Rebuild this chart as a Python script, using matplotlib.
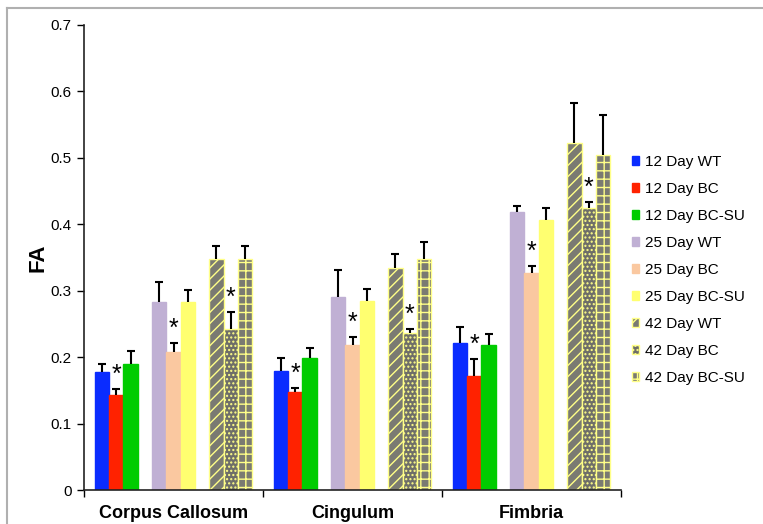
import matplotlib
matplotlib.use('Agg')
import matplotlib.pyplot as plt
import numpy as np

plt.rcParams['font.family'] = ['Liberation Sans', 'DejaVu Sans']

# Data
regions = ['Corpus Callosum', 'Cingulum', 'Fimbria']
series = ['12 Day WT', '12 Day BC', '12 Day BC-SU',
          '25 Day WT', '25 Day BC', '25 Day BC-SU',
          '42 Day WT', '42 Day BC', '42 Day BC-SU']

fa_12wt = [0.178, 0.179, 0.222]
fa_12bc = [0.143, 0.148, 0.172]
fa_12su = [0.190, 0.198, 0.219]
fa_25wt = [0.283, 0.290, 0.418]
fa_25bc = [0.208, 0.218, 0.326]
fa_25su = [0.283, 0.285, 0.406]
fa_42wt = [0.348, 0.334, 0.523]
fa_42bc = [0.242, 0.236, 0.425]
fa_42su = [0.348, 0.348, 0.504]

err_12wt = [0.012, 0.020, 0.024]
err_12bc = [0.009, 0.006, 0.025]
err_12su = [0.019, 0.016, 0.016]
err_25wt = [0.030, 0.041, 0.009]
err_25bc = [0.014, 0.012, 0.011]
err_25su = [0.018, 0.018, 0.018]
err_42wt = [0.019, 0.022, 0.060]
err_42bc = [0.026, 0.007, 0.009]
err_42su = [0.019, 0.025, 0.060]

# series flagged with * (significant vs WT)
starred = ['12 Day BC', '25 Day BC', '42 Day BC']

values = [fa_12wt, fa_12bc, fa_12su, fa_25wt, fa_25bc, fa_25su, fa_42wt, fa_42bc, fa_42su]
errors = [err_12wt, err_12bc, err_12su, err_25wt, err_25bc, err_25su, err_42wt, err_42bc, err_42su]

# slots within a group: 3 bars, empty slot, 3 bars, empty slot, 3 bars
slots = [0, 1, 2, 4, 5, 6, 8, 9, 10]
edge = 0.06
w = (1 - 2 * edge) / 11

yellow = '#ffff88'
gray = '#7a7a72'
styles = [
    dict(color='#0a2cff', edgecolor='#0a2cff'),
    dict(color='#ff2200', edgecolor='#ff2200'),
    dict(color='#00cc00', edgecolor='#00cc00'),
    dict(color='#c0b0d4', edgecolor='#c0b0d4'),
    dict(color='#fac8a0', edgecolor='#fac8a0'),
    dict(color='#ffff70', edgecolor='#ffff70'),
    dict(facecolor=gray, edgecolor=yellow, hatch='///'),
    dict(facecolor='#6e6e68', edgecolor=yellow, hatch='....'),
    dict(facecolor=gray, edgecolor=yellow, hatch='++'),
]

fig = plt.figure(figsize=(7.63, 5.24), dpi=100)
ax = fig.add_axes([84 / 763, 1 - 490 / 524, (621 - 84) / 763, (490 - 25) / 524])

group_x = np.arange(len(regions))
for i, name in enumerate(series):
    x = group_x + edge + w * slots[i] + w / 2
    y = np.array(values[i])
    e = np.array(errors[i])
    ax.bar(x, y, width=w, linewidth=1.0, label=name, **styles[i])
    ax.vlines(x, y, y + e, color='black', linewidth=1.5, zorder=3)
    ax.plot(x, y + e, linestyle='none', marker='_', markersize=6,
            markeredgewidth=1.5, color='black', zorder=3)
    if name in starred:
        for xi, top in zip(x, y + e):
            ax.text(xi, top + 0.003, '*', ha='center', va='bottom',
                    fontsize=18, color='black')

ax.set_xlim(0, len(regions))
ax.set_ylim(0, 0.7)
ax.set_yticks(np.arange(0, 0.71, 0.1))
ax.set_yticklabels(['0'] + ['%.1f' % v for v in np.arange(0.1, 0.71, 0.1)], fontsize=11)
ax.set_xticks(np.arange(0, len(regions) + 1))
ax.set_xticklabels([])
ax.set_xticks(group_x + 0.5, minor=True)
ax.set_xticklabels(regions, minor=True, fontsize=13, fontweight='bold')
ax.tick_params(axis='x', which='minor', length=0, pad=11)
ax.tick_params(axis='x', which='major', length=5, direction='out', width=1)
ax.tick_params(axis='y', length=5, direction='out', width=1, pad=4)
ax.set_ylabel('FA', fontsize=16, fontweight='bold', labelpad=1)

for s in ['top', 'right']:
    ax.spines[s].set_visible(False)
for s in ['left', 'bottom']:
    ax.spines[s].set_linewidth(1.2)
    ax.spines[s].set_color('#222222')

ax.legend(loc='upper left', bbox_to_anchor=(0.994, 0.75), frameon=False,
          fontsize=11, handlelength=0.5, handleheight=0.5, handletextpad=0.4,
          labelspacing=0.85)

# light gray frame around the chart area
fig.add_artist(plt.Line2D([7 / 763, 1], [1 - 8 / 524, 1 - 8 / 524],
                          transform=fig.transFigure, color='#b0b0b0', linewidth=1.5))
fig.add_artist(plt.Line2D([7 / 763, 7 / 763], [0, 1 - 8 / 524],
                          transform=fig.transFigure, color='#b0b0b0', linewidth=1.5))

fig.savefig('out.png', dpi=100)
